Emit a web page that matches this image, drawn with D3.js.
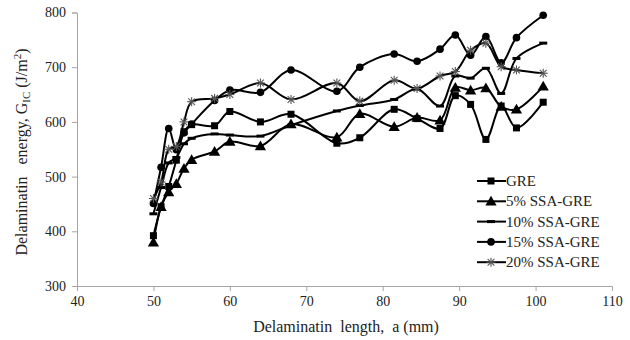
<!DOCTYPE html>
<html>
<head>
<meta charset="utf-8">
<script src="https://cdn.jsdelivr.net/npm/d3@7"></script>
<style>
  html, body { margin: 0; padding: 0; background: #fff; }
  svg { display: block; }
  text { font-family: "Liberation Serif", "Times New Roman", serif; fill: #222; }
</style>
</head>
<body>
<svg id="chart" width="630" height="340"></svg>
<script>
// Delamination length (mm) for each measurement
const lengths = [50, 51, 52, 53, 54, 55, 58, 60, 64, 68, 74, 77, 81.5, 84.5, 87.5, 89.5, 91.5, 93.5, 95.5, 97.5, 101];

// G_IC values (J/m^2) per specimen
const gre    = [392, 445, 482, 530, 582, 595, 593, 619, 600, 614, 561, 571, 623, 606, 588, 648, 632, 568, 629, 589, 636];
const ssa5   = [380, 445, 472, 487, 515, 531, 546, 564, 556, 596, 572, 615, 591, 608, 603, 663, 658, 662, 628, 623, 665];
const ssa10  = [432, 480, 525, 535, 560, 570, 578, 576, 574, 594, 620, 630, 641, 660, 629, 684, 680, 698, 652, 716, 744];
const ssa15  = [451, 517, 588, 549, 580, 596, 639, 658, 654, 695, 656, 700, 724, 711, 733, 759, 722, 756, 708, 754, 795];
const ssa20  = [460, 490, 550, 555, 600, 637, 643, 650, 671, 641, 671, 638, 676, 661, 684, 692, 731, 744, 701, 695, 689];

const seriesNames = ["GRE", "5% SSA-GRE", "10% SSA-GRE", "15% SSA-GRE", "20% SSA-GRE"];
const seriesValues = [gre, ssa5, ssa10, ssa15, ssa20];
const markerKinds = ["square", "triangle", "dash", "circle", "star"];

const xTicks = [40, 50, 60, 70, 80, 90, 100, 110];
const yTicks = [300, 400, 500, 600, 700, 800];

const svg = d3.select("#chart");
const plot = { left: 77, right: 612, top: 12.5, bottom: 286 };

const x = d3.scaleLinear().domain([40, 110]).range([plot.left, plot.right]);
const y = d3.scaleLinear().domain([300, 800]).range([plot.bottom, plot.top]);

// Axes
const axisColor = "#a6a6a6";
const xAxis = svg.append("g")
  .attr("transform", `translate(0,${plot.bottom})`)
  .call(d3.axisBottom(x).tickValues(xTicks).tickSize(5).tickPadding(5).tickFormat(d3.format("d")));
const yAxis = svg.append("g")
  .attr("transform", `translate(${plot.left},0)`)
  .call(d3.axisLeft(y).tickValues(yTicks).tickSize(5).tickPadding(6).tickFormat(d3.format("d")));
[xAxis, yAxis].forEach(a => {
  a.select(".domain").attr("stroke", axisColor).attr("stroke-width", 1);
  a.selectAll(".tick line").attr("stroke", axisColor);
  a.selectAll(".tick text").attr("font-family", "Liberation Serif, serif")
    .attr("font-size", 14).attr("fill", "#333");
});

// Axis titles
svg.append("text")
  .attr("x", 346).attr("y", 332)
  .attr("text-anchor", "middle").attr("font-size", 16)
  .attr("xml:space", "preserve")
  .text("Delaminatin  length,  a (mm)");

const yTitle = svg.append("text")
  .attr("transform", "translate(27,152) rotate(-90)")
  .attr("text-anchor", "middle").attr("font-size", 16)
  .attr("xml:space", "preserve");
yTitle.append("tspan").text("Delaminatin   energy, G");
yTitle.append("tspan").attr("font-size", 11).attr("dy", 3).text("IC");
yTitle.append("tspan").attr("dy", -3).text(" (J/m");
yTitle.append("tspan").attr("font-size", 11).attr("dy", -6).text("2");
yTitle.append("tspan").attr("dy", 6).text(")");

// Marker drawing
function drawMarker(g, kind, cx, cy) {
  if (kind === "square") {
    g.append("rect").attr("x", cx - 3.5).attr("y", cy - 3.5)
      .attr("width", 7).attr("height", 7).attr("fill", "#000");
  } else if (kind === "triangle") {
    g.append("path").attr("transform", `translate(${cx},${cy + 1})`)
      .attr("d", d3.symbol(d3.symbolTriangle, 55)()).attr("fill", "#000");
  } else if (kind === "circle") {
    g.append("circle").attr("cx", cx).attr("cy", cy).attr("r", 3.8).attr("fill", "#000");
  } else if (kind === "dash") {
    g.append("rect").attr("x", cx - 4).attr("y", cy - 1.5)
      .attr("width", 8).attr("height", 3).attr("fill", "#000");
  } else if (kind === "star") {
    const s = 4.5;
    const st = g.append("g").attr("stroke", "#555").attr("stroke-width", 1.1);
    st.append("line").attr("x1", cx - s).attr("x2", cx + s).attr("y1", cy).attr("y2", cy);
    st.append("line").attr("x1", cx).attr("x2", cx).attr("y1", cy - s).attr("y2", cy + s);
    st.append("line").attr("x1", cx - s * 0.75).attr("x2", cx + s * 0.75).attr("y1", cy - s * 0.75).attr("y2", cy + s * 0.75);
    st.append("line").attr("x1", cx - s * 0.75).attr("x2", cx + s * 0.75).attr("y1", cy + s * 0.75).attr("y2", cy - s * 0.75);
  }
}

// Smoothed series lines
const line = d3.line()
  .x(d => x(d[0])).y(d => y(d[1]))
  .curve(d3.curveCatmullRom.alpha(0.5));

seriesValues.forEach((vals, i) => {
  const pts = lengths.map((l, j) => [l, vals[j]]);
  const g = svg.append("g");
  g.append("path").datum(pts)
    .attr("d", line).attr("fill", "none")
    .attr("stroke", "#000").attr("stroke-width", 2);
  pts.forEach(p => drawMarker(g, markerKinds[i], x(p[0]), y(p[1])));
});

// Legend
const legend = svg.append("g");
seriesNames.forEach((name, i) => {
  const ly = 181 + i * 20.3;
  legend.append("line").attr("x1", 477).attr("x2", 506).attr("y1", ly).attr("y2", ly)
    .attr("stroke", "#000").attr("stroke-width", 2);
  drawMarker(legend, markerKinds[i], 491, ly);
  legend.append("text").attr("x", 506).attr("y", ly + 5)
    .attr("font-size", 15).text(name);
});
</script>
</body>
</html>
